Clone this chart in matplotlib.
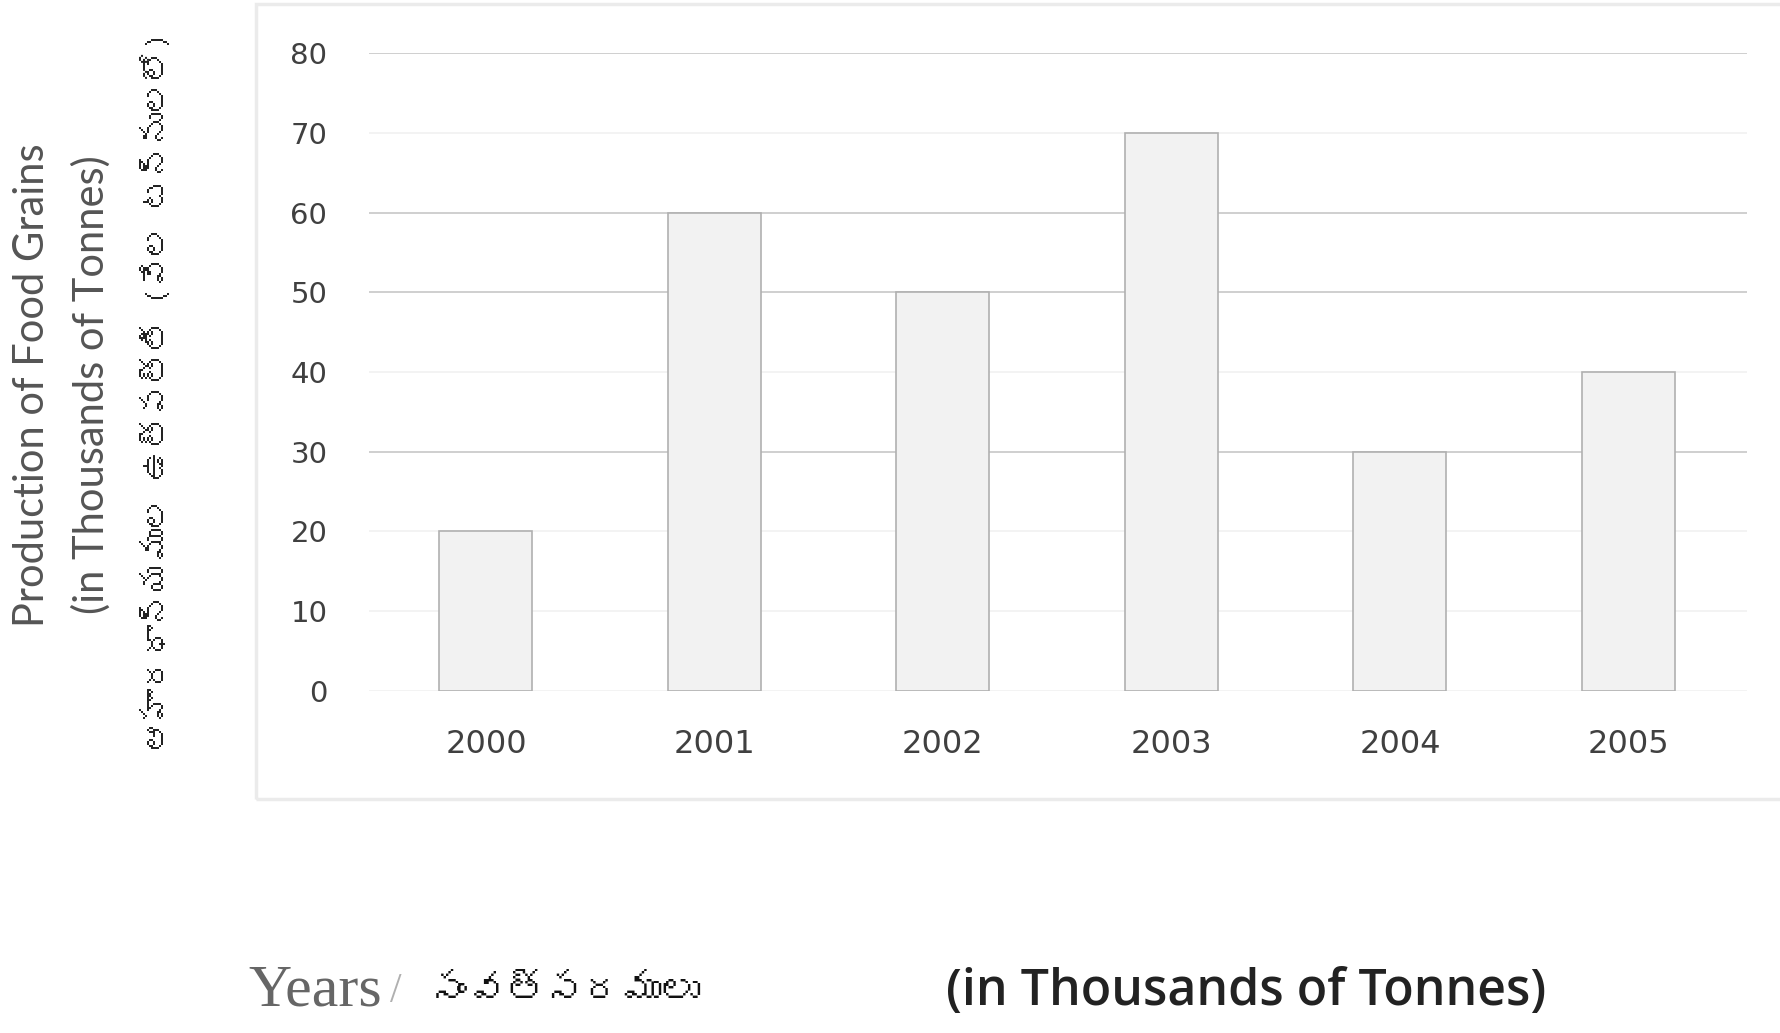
import matplotlib
matplotlib.use("Agg")
import matplotlib.pyplot as plt
from matplotlib import font_manager
from matplotlib.patches import Rectangle
from matplotlib.ft2font import FT2Font

years = ["2000", "2001", "2002", "2003", "2004", "2005"]
production = [20, 60, 50, 70, 30, 40]
y_ticks = [0, 10, 20, 30, 40, 50, 60, 70, 80]
strong_grid = [30, 50, 60, 80]

ylabel_en1 = "Production of Food Grains"
ylabel_en2 = "(in Thousands of Tonnes)"
ylabel_te = "ఆహారధాన్యముల ఉత్పత్తి (వేల టన్నులలో)"
xlabel_en = "Years"
xlabel_te = "సంవత్సరములు"
unit_label = "(in Thousands of Tonnes)"

# find a font that covers Telugu, if any
telugu_family = None
for fe in font_manager.fontManager.ttflist:
    try:
        cmap = FT2Font(fe.fname).get_charmap()
        if 0x0C38 in cmap and 0x0C35 in cmap:
            telugu_family = fe.name
            break
    except Exception:
        pass
te_fams = ([telugu_family] if telugu_family else []) + ["Lato", "DejaVu Sans"]

W, H = 1781, 1033
fig = plt.figure(figsize=(W / 100, H / 100), dpi=100)
fig.patch.set_facecolor("white")

# chart frame
fig.add_artist(Rectangle((256 / W, 1 - 799 / H), (W - 250) / W, (799 - 4) / H,
                         transform=fig.transFigure, fill=False,
                         edgecolor="#ebebeb", linewidth=2.5))

ax = fig.add_axes([369 / W, 1 - 690.6 / H, (1747 - 369) / W, (690.6 - 53.4) / H])
x = list(range(len(years)))
for v in y_ticks:
    ax.axhline(v, color="#cccccc" if v in strong_grid else "#f2f2f2",
               linewidth=1.3, zorder=0)
ax.bar(x, production, width=0.407, color="#f2f2f2", edgecolor="#b0b0b0",
       linewidth=1.2, zorder=2)
ax.set_xlim(-0.512, 5.519)
ax.set_ylim(0, 80)
ax.set_xticks(x)
ax.set_xticklabels(years)
ax.set_yticks(y_ticks)
for s in ax.spines.values():
    s.set_visible(False)
ax.tick_params(axis="both", length=0, labelcolor="#404040")
ax.tick_params(axis="x", pad=28, labelsize=23)
ax.tick_params(axis="y", pad=30, labelsize=21)
for lab in ax.get_xticklabels() + ax.get_yticklabels():
    lab.set_fontfamily("DejaVu Sans")

# y-axis label lines
fig.text(32 / W, 1 - 385 / H, ylabel_en1, rotation=90, ha="center", va="center",
         fontsize=30, color="#555555", family=["Lato", "DejaVu Sans"])
fig.text(91 / W, 1 - 385 / H, ylabel_en2, rotation=90, ha="center", va="center",
         fontsize=30, color="#555555", family=["Lato", "DejaVu Sans"])
fig.text(157 / W, 1 - 392 / H, ylabel_te, rotation=90, ha="center", va="center",
         fontsize=23, color="#222222", family=te_fams)

# bottom labels
fig.text(248 / W, 1 - 992 / H, xlabel_en, ha="left", va="center",
         fontsize=43, color="#666666", family=["Liberation Serif", "DejaVu Serif"])
fig.text(390 / W, 1 - 992 / H, "/", ha="left", va="center",
         fontsize=30, color="#b0b0b0", family=["Liberation Serif", "DejaVu Serif"])
fig.text(429 / W, 1 - 992 / H, xlabel_te, ha="left", va="center",
         fontsize=28, color="#111111", fontweight="bold", family=te_fams)
fig.text(946 / W, 1 - 992 / H, unit_label, ha="left", va="center",
         fontsize=36, color="#222222", fontweight="semibold",
         family=["Open Sans", "Lato", "DejaVu Sans"])

fig.savefig("out.png", dpi=100, facecolor="white")
